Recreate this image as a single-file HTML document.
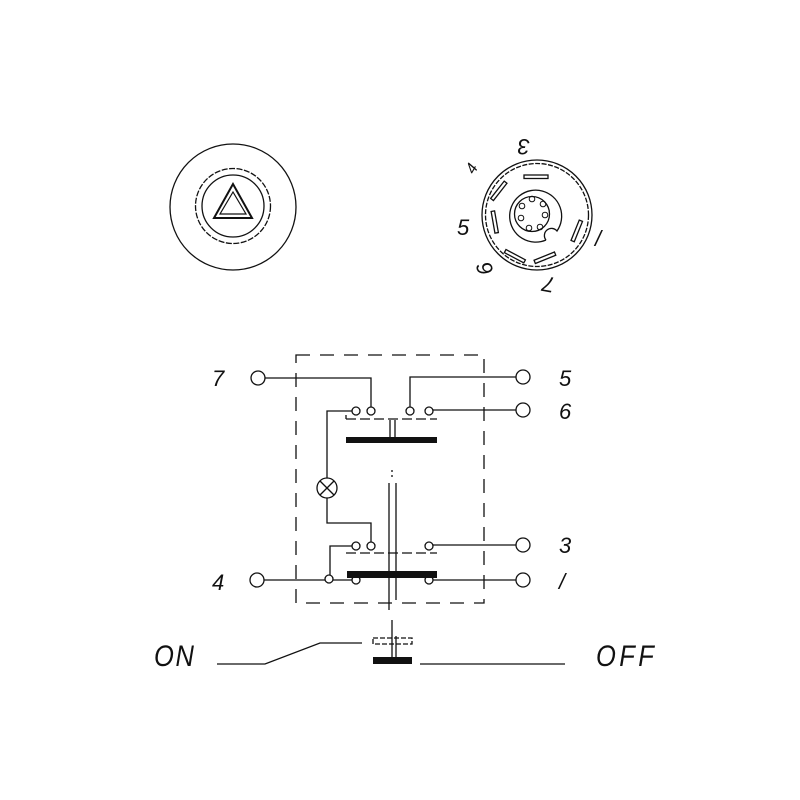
<!DOCTYPE html>
<html><head><meta charset="utf-8"><style>
html,body{margin:0;padding:0;background:#fff;width:800px;height:800px;overflow:hidden}
text{font-family:"Liberation Sans",sans-serif;font-style:italic;fill:#111}
</style></head><body>
<svg width="800" height="800" viewBox="0 0 800 800" xmlns="http://www.w3.org/2000/svg">
<g fill="none" stroke="#111" stroke-width="1.3">
<!-- hazard button -->
<circle cx="233" cy="207" r="63"/>
<circle cx="233" cy="206" r="37.5" stroke-dasharray="6,1.5"/>
<circle cx="233" cy="206" r="31"/>
<polygon points="233,184 214,218 252,218" stroke-width="2"/>
<polygon points="233,192 220,214 246,214" stroke-width="1.2"/>
<!-- connector -->
<circle cx="537" cy="215" r="55"/>
<circle cx="537" cy="215" r="51.5" stroke-dasharray="5,1.5"/>
<path d="M546,240 A26,26 0 1 1 557,231 A6,6 0 0 0 546,240"/>
<circle cx="532" cy="214" r="17.5"/>
<g stroke-width="1">
<circle cx="532" cy="199" r="2.8"/><circle cx="543" cy="204" r="2.8"/><circle cx="545" cy="215" r="2.8"/><circle cx="540" cy="227" r="2.8"/><circle cx="529" cy="228" r="2.8"/><circle cx="521" cy="218" r="2.8"/><circle cx="522" cy="206" r="2.8"/>
</g>
<rect x="524" y="175" width="24" height="3.5"/>
<rect x="497" y="180" width="3.5" height="22" transform="rotate(38 499 191)"/>
<rect x="493" y="211" width="3.5" height="22" transform="rotate(-10 495 222)"/>
<rect x="513" y="245" width="3.5" height="22" transform="rotate(-62 515 256)"/>
<rect x="543" y="247" width="3.5" height="22" transform="rotate(68 545 258)"/>
<rect x="575" y="220" width="3.5" height="22" transform="rotate(22 577 231)"/>
<!-- dashed box -->
<rect x="296" y="355" width="188" height="248" stroke-dasharray="14,10"/>
<!-- top wires -->
<polyline points="265,378 371,378 371,407"/>
<polyline points="516,377 410,377 410,407"/>
<line x1="433" y1="410" x2="516" y2="410"/>
<polyline points="352,411 327,411 327,478"/>
<polyline points="327,498 327,523 371,523 371,542"/>
<circle cx="327" cy="488" r="10"/>
<line x1="320" y1="481" x2="334" y2="495"/><line x1="334" y1="481" x2="320" y2="495"/>
<circle cx="356" cy="411" r="4"/><circle cx="371" cy="411" r="4"/><circle cx="410" cy="411" r="4"/><circle cx="429" cy="411" r="4"/>
<line x1="346" y1="419" x2="437" y2="419" stroke-dasharray="10,4"/>
<line x1="346" y1="415" x2="346" y2="419"/>
<line x1="390" y1="420" x2="390" y2="437"/><line x1="395" y1="420" x2="395" y2="437"/>
<!-- terminals -->
<circle cx="258" cy="378" r="7"/><circle cx="523" cy="377" r="7"/><circle cx="523" cy="410" r="7"/>
<circle cx="523" cy="545" r="7"/><circle cx="523" cy="580" r="7"/><circle cx="257" cy="580" r="7"/>
<!-- stem -->
<line x1="389" y1="483" x2="389" y2="610"/><line x1="396" y1="483" x2="396" y2="600"/>
<line x1="392" y1="470" x2="392" y2="478" stroke-dasharray="2,3"/>
<!-- lower contacts -->
<circle cx="356" cy="546" r="4"/><circle cx="371" cy="546" r="4"/><circle cx="429" cy="546" r="4"/>
<line x1="433" y1="545" x2="516" y2="545"/>
<line x1="346" y1="553" x2="437" y2="553" stroke-dasharray="10,4"/>
<polyline points="352,546 330,546 330,575"/>
<circle cx="329" cy="579" r="4"/><circle cx="356" cy="580" r="4"/><circle cx="429" cy="580" r="4"/>
<line x1="264" y1="580" x2="325" y2="580"/><line x1="333" y1="580" x2="352" y2="580"/>
<line x1="433" y1="580" x2="516" y2="580"/>
<!-- bottom switch -->
<polyline points="217,664 265,664 320,643 362,643"/>
<rect x="373" y="638" width="39" height="6" stroke-dasharray="5,2"/>
<line x1="392" y1="620" x2="392" y2="658"/><line x1="396" y1="636" x2="396" y2="658"/>
<line x1="420" y1="664" x2="565" y2="664"/>
</g>
<g fill="#111">
<rect x="346" y="437" width="91" height="6"/>
<rect x="347" y="571" width="90" height="7"/>
<rect x="373" y="657" width="39" height="7"/>
</g>
<g font-size="22">
<text x="212" y="386">7</text><text x="559" y="386">5</text><text x="559" y="419">6</text>
<text x="559" y="553">3</text><text x="559" y="589">/</text><text x="212" y="590">4</text>
<text x="457" y="235">5</text><text x="595" y="246">/</text>
<text x="0" y="0" transform="translate(530,139) rotate(180)">3</text>
<text x="0" y="0" font-size="16" transform="translate(474,175) rotate(-60)">4</text>
<text x="0" y="0" transform="translate(494,272) rotate(-110)">6</text>
<text x="0" y="0" transform="translate(556,278) rotate(190)">7</text>
<text x="0" y="0" font-size="30" transform="translate(154,666) scale(0.85,1)" style="letter-spacing:2px">ON</text>
<text x="0" y="0" font-size="30" transform="translate(596,666) scale(0.85,1)" style="letter-spacing:4px">OFF</text>
</g>
</svg>
</body></html>
